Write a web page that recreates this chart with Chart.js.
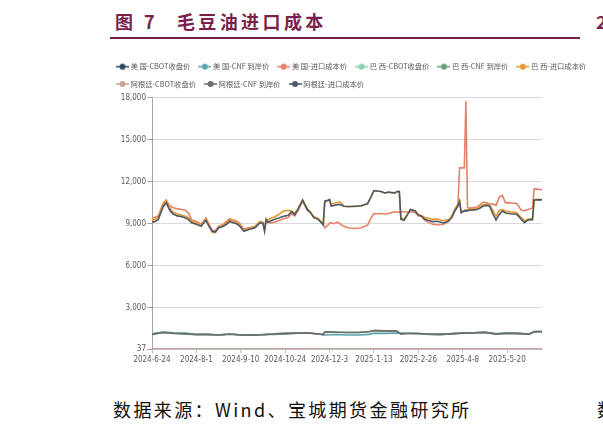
<!DOCTYPE html>
<html>
<head>
<meta charset="utf-8">
<script src="https://cdn.jsdelivr.net/npm/chart.js@4.4.1/dist/chart.umd.min.js"></script>
<style>
  body { margin: 0; background: #fff; width: 603px; height: 429px; overflow: hidden; position: relative; font-family: "Noto Sans CJK SC", sans-serif; }
  #titulo { position: absolute; left: 115px; top: 8px; font-size: 18px; font-weight: bold; color: #7b1f4b; letter-spacing: 3.4px; white-space: nowrap; }
  #titulo span { margin-left: 19px; }
  #linea { position: absolute; left: 110px; top: 37px; width: 470px; height: 2px; background: #7b1f4b; }
  #fuente { position: absolute; left: 113px; top: 396px; font-size: 18px; color: #111; letter-spacing: 2.4px; white-space: nowrap; }
  #corte1 { position: absolute; left: 596px; top: 8px; font-size: 18px; font-weight: bold; color: #7b1f4b; }
  #corte2 { position: absolute; left: 597px; top: 396px; font-size: 18px; color: #111; }
  #marco { position: absolute; left: 108px; top: 52px; width: 530px; height: 316px; }
</style>
</head>
<body>
<div id="titulo">图 7<span>毛豆油进口成本</span></div>
<div id="linea"></div>
<div id="corte1">2</div>
<div id="fuente">数据来源：Wind、宝城期货金融研究所</div>
<div id="corte2">数</div>
<div id="marco"><canvas id="grafico"></canvas></div>
<script>
/* series names */
var seriesNames = ['美 国-CBOT收盘价', '美 国-CNF 到岸价', '美 国-进口成本价',
                   '巴 西-CBOT收盘价', '巴 西-CNF 到岸价', '巴 西-进口成本价',
                   '阿根廷-CBOT收盘价', '阿根廷-CNF 到岸价', '阿根廷-进口成本价'];
var seriesColors = ['#2f4a63', '#5aa1ac', '#e5826a',
                    '#8fd0b0', '#6a9f7a', '#e3992e',
                    '#c9a396', '#6d6d6d', '#4b5966'];

/* axis ticks: trading day index and labels */
var xTickDays = [0, 28, 56, 84, 112, 140, 168, 196, 224];
var xTickLabels = ['2024-6-24', '2024-8-1', '2024-9-10', '2024-10-24', '2024-12-3',
                   '2025-1-13', '2025-2-26', '2025-4-8', '2025-5-20'];
var yTicks = [37, 3000, 6000, 9000, 12000, 15000, 18000];

/* import cost (yuan/t) */
var costDays = [0, 2, 4, 7, 9, 11, 13, 16, 19, 21,
  23, 25, 28, 31, 34, 36, 38, 40, 42, 45,
  47, 49, 51, 53, 55, 58, 61, 65, 68, 70,
  71, 72, 73, 75, 77, 80, 83, 86, 88, 90,
  92, 95, 98, 100, 102, 105, 107, 108, 109, 111,
  112, 113, 115, 117, 119, 121, 124, 128, 132, 136,
  138, 140, 142, 144, 147, 149, 151, 153, 155, 156,
  157, 159, 161, 163, 166, 168, 170, 172, 174, 177,
  180, 184, 187, 189, 191, 193, 194, 195, 197, 198,
  199, 200, 203, 205, 207, 209, 211, 213, 215, 217,
  219, 221, 223, 226, 230, 233, 235, 237, 240, 241,
  243, 246];
var usCost = [9400, 9450, 9550, 10450, 10680, 10300, 10150, 10050, 10000, 9950,
  9750, 9280, 9150, 8950, 9400, 8950, 8520, 8500, 8800, 8950,
  9150, 9350, 9250, 9200, 9050, 8600, 8700, 8800, 9150, 9100,
  8650, 9300, 9100, 9050, 9100, 9200, 9350, 9450, 9700, 9550,
  9900, 10600, 9950, 9750, 9500, 9300, 9050, 8900, 8700, 8880,
  9040, 9050, 9000, 9100, 8950, 8800, 8680, 8650, 8700, 8890,
  9370, 9720, 9700, 9720, 9680, 9720, 9780, 9840, 9820, 9800,
  9840, 9840, 9800, 9840, 9800, 9550, 9500, 9250, 9100, 8960,
  8900, 8950, 9200, 9520, 10020, 10400, 12980, 12980, 12980, 17760,
  10150, 10100, 10150, 10180, 10350, 10540, 10480, 10400, 10390, 10300,
  10890, 11010, 10480, 10480, 10430, 9950, 9920, 10000, 10100, 11480,
  11460, 11420];
var brCost = [9250, 9300, 9450, 10380, 10600, 10150, 9850, 9680, 9600, 9520,
  9420, 9150, 9050, 8900, 9300, 8850, 8380, 8350, 8750, 8880,
  9050, 9280, 9150, 9100, 8950, 8500, 8620, 8750, 9100, 9050,
  8600, 9350, 9250, 9400, 9450, 9650, 9900, 9950, 9900, 9750,
  10050, 10700, 10050, 9830, 9480, 9350, 9080, 8950, 10600, 10680,
  10700, 10400, 10450, 10520, 10520, 10240, 10200, 10220, 10250, 10420,
  10870, 11340, 11310, 11290, 11170, 11230, 11200, 11170, 11290, 11280,
  9380, 9350, 9650, 10000, 9920, 9650, 9560, 9430, 9400, 9300,
  9330, 9200, 9280, 9450, 10000, 10400, 10650, 9850, 9950, 9980,
  9960, 10000, 10050, 10080, 10200, 10350, 10400, 10300, 9950, 9520,
  9950, 10000, 9900, 9820, 9780, 9400, 9200, 9300, 9350, 10720,
  10740, 10720];
var arCost = [9100, 9150, 9290, 10200, 10480, 10000, 9700, 9550, 9480, 9400,
  9300, 9050, 8950, 8800, 9230, 8800, 8450, 8400, 8690, 8800,
  8950, 9160, 9050, 9000, 8860, 8450, 8570, 8690, 9040, 9000,
  8450, 9250, 9100, 9200, 9290, 9400, 9520, 9600, 9860, 9630,
  9990, 10670, 9990, 9780, 9420, 9300, 9040, 8920, 10580, 10650,
  10720, 10250, 10300, 10350, 10350, 10240, 10220, 10240, 10270, 10430,
  10880, 11360, 11330, 11310, 11190, 11250, 11220, 11190, 11310, 11300,
  9300, 9230, 9600, 10000, 9900, 9600, 9540, 9300, 9230, 9140,
  9160, 9040, 9160, 9420, 9900, 10250, 10560, 9780, 9900, 9920,
  9900, 9950, 9980, 10000, 10100, 10250, 10300, 10240, 9700, 9250,
  9650, 9900, 9760, 9700, 9660, 9300, 9060, 9250, 9280, 10690,
  10700, 10690];

/* CNF price (usd/t) */
var cnfDays = [0, 7, 14, 21, 28, 35, 42, 49, 56, 63,
  70, 77, 84, 91, 98, 105, 108, 109, 116, 123,
  130, 137, 140, 147, 154, 157, 161, 168, 175, 182,
  189, 196, 203, 210, 217, 224, 231, 238, 241, 246];
var usCnf = [1119, 1244, 1202, 1185, 1089, 1095, 1048, 1113, 1060, 1042,
  1071, 1083, 1117, 1161, 1185, 1107, 1060, 1036, 1077, 1035,
  1033, 1083, 1157, 1152, 1170, 1171, 1167, 1137, 1077, 1062,
  1133, 1180, 1195, 1232, 1110, 1170, 1150, 1110, 1290, 1300];
var brCnf = [1101, 1236, 1167, 1133, 1077, 1083, 1042, 1105, 1042, 1036,
  1065, 1125, 1181, 1179, 1196, 1113, 1065, 1262, 1248, 1215,
  1219, 1268, 1350, 1330, 1340, 1117, 1149, 1149, 1113, 1101,
  1125, 1179, 1196, 1236, 1133, 1174, 1155, 1111, 1276, 1276];
var arCnf = [1083, 1214, 1149, 1119, 1065, 1071, 1035, 1090, 1036, 1027,
  1054, 1106, 1138, 1167, 1189, 1107, 1062, 1260, 1229, 1218,
  1220, 1268, 1352, 1332, 1339, 1107, 1143, 1143, 1095, 1083,
  1121, 1173, 1188, 1224, 1101, 1158, 1137, 1102, 1273, 1273];

/* CBOT close (cents/lb) */
var cbotDays = [0, 14, 28, 42, 56, 70, 84, 98, 112, 126, 140, 154, 168, 182, 196, 210, 224, 238, 246];
var usCbot = [44.1, 47.2, 42.3, 40.5, 41.2, 42.0, 43.5, 45.2, 41.0, 40.2, 45.1, 46.3, 43.8, 42.9, 48.6, 49.2, 50.1, 48.9, 54.2];
var brCbot = [44.1, 47.2, 42.3, 40.5, 41.2, 42.0, 43.5, 45.2, 41.0, 40.2, 45.1, 46.3, 43.8, 42.9, 48.6, 49.2, 50.1, 48.9, 54.2];
var arCbot = [44.1, 47.2, 42.3, 40.5, 41.2, 42.0, 43.5, 45.2, 41.0, 40.2, 45.1, 46.3, 43.8, 42.9, 48.6, 49.2, 50.1, 48.9, 54.2];

function puntos(dias, valores) {
    return dias.map(function (d, i) { return { x: d, y: valores[i] }; });
}

/* legend marker: short line with a dot */
function marcador(color) {
    var c = document.createElement('canvas');
    c.width = 13;
    c.height = 8;
    var g = c.getContext('2d');
    g.strokeStyle = color;
    g.lineWidth = 1.5;
    g.beginPath();
    g.moveTo(0, 4);
    g.lineTo(13, 4);
    g.stroke();
    g.fillStyle = color;
    g.beginPath();
    g.arc(6.5, 4, 3, 0, Math.PI * 2);
    g.fill();
    return c;
}

var allData = [
    puntos(cbotDays, usCbot), puntos(cnfDays, usCnf), puntos(costDays, usCost),
    puntos(cbotDays, brCbot), puntos(cnfDays, brCnf), puntos(costDays, brCost),
    puntos(cbotDays, arCbot), puntos(cnfDays, arCnf), puntos(costDays, arCost)
];

var datasets = allData.map(function (d, i) {
    return {
        label: seriesNames[i],
        data: d,
        borderColor: seriesColors[i],
        backgroundColor: seriesColors[i],
        borderWidth: 1.6,
        pointRadius: 0,
        pointStyle: marcador(seriesColors[i]),
        fill: false,
        order: 8 - i
    };
});

var fuenteEje = { family: "'Liberation Sans Narrow', 'DejaVu Sans Condensed', sans-serif", size: 8 };

var grafico = new Chart(document.getElementById('grafico').getContext('2d'), {
    type: 'line',
    data: { datasets: datasets },
    options: {
        responsive: true,
        maintainAspectRatio: false,
        animation: false,
        layout: { padding: { top: 1, right: 0, bottom: 0, left: 0 } },
        plugins: {
            tooltip: { enabled: false },
            legend: {
                position: 'top',
                align: 'start',
                labels: {
                    usePointStyle: true,
                    pointStyleWidth: 9,
                    padding: 10,
                    color: '#595959',
                    font: { family: "'Noto Sans CJK SC', sans-serif", size: 7.3 },
                    sort: function (a, b) { return a.datasetIndex - b.datasetIndex; }
                }
            }
        },
        scales: {
            x: {
                type: 'linear',
                min: 0,
                max: 246,
                afterBuildTicks: function (s) {
                    s.ticks = xTickDays.map(function (v) { return { value: v }; });
                },
                afterFit: function (s) { s.height = 19; },
                grid: { drawOnChartArea: false, drawTicks: true, tickLength: 4, color: '#bfbfbf' },
                border: { color: '#bfbfbf' },
                ticks: {
                    autoSkip: false,
                    maxRotation: 0,
                    padding: 2,
                    color: '#595959',
                    font: fuenteEje,
                    callback: function (v) {
                        var k = xTickDays.indexOf(v);
                        return k >= 0 ? xTickLabels[k] : '';
                    }
                }
            },
            y: {
                min: 37,
                max: 18000,
                afterBuildTicks: function (s) {
                    s.ticks = yTicks.map(function (v) { return { value: v }; });
                },
                afterFit: function (s) { s.width = 44; },
                grid: { color: '#d9d9d9', tickLength: 5, tickColor: '#a6a6a6' },
                border: { color: '#a6a6a6' },
                ticks: {
                    padding: 1,
                    color: '#595959',
                    font: fuenteEje,
                    callback: function (v) { return v.toLocaleString('en-US'); }
                }
            },
            /* empty right margin so the plot stops before the legend does */
            hueco: {
                position: 'right',
                min: 0,
                max: 1,
                afterFit: function (s) { s.width = 96; },
                grid: { display: false },
                border: { display: false },
                ticks: { display: false }
            }
        }
    }
});
</script>
</body>
</html>
